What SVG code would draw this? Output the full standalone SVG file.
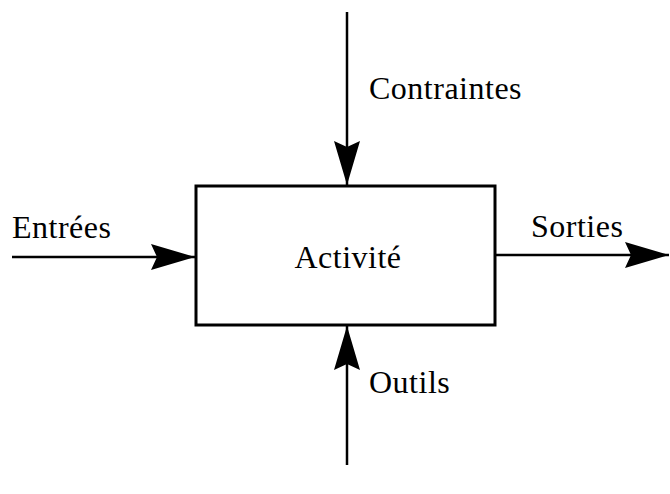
<svg xmlns="http://www.w3.org/2000/svg" width="670" height="494" viewBox="0 0 670 494">
  <style>
    .lbl { font-family: "Liberation Serif", "Times New Roman", serif; font-size: 32px; letter-spacing: 0.5px; fill: #000; }
    .ln { stroke: #000; stroke-width: 2.5; fill: none; }
    .box { stroke: #000; stroke-width: 3; fill: #fff; }
  </style>
  <defs>
    <marker id="head" viewBox="0 0 44 26" refX="44" refY="13" markerWidth="44" markerHeight="26" markerUnits="userSpaceOnUse" orient="auto">
      <path d="M0,0 L44,13 L0,26 L6,13 Z" fill="#000"/>
    </marker>
  </defs>
  <g id="connectors">
    <line class="ln" x1="347" y1="12" x2="347" y2="185" marker-end="url(#head)"/>
    <line class="ln" x1="12" y1="257" x2="195" y2="257" marker-end="url(#head)"/>
    <line class="ln" x1="496" y1="255" x2="669" y2="255" marker-end="url(#head)"/>
    <line class="ln" x1="347" y1="465" x2="347" y2="326" marker-end="url(#head)"/>
  </g>
  <g id="activite">
    <rect class="box" x="196" y="186" width="299" height="139"/>
    <text class="lbl" x="348" y="268" text-anchor="middle">Activité</text>
  </g>
  <g id="contraintes">
    <text class="lbl" x="369" y="99">Contraintes</text>
  </g>
  <g id="entrees">
    <text class="lbl" x="12" y="238">Entrées</text>
  </g>
  <g id="sorties">
    <text class="lbl" x="531" y="237">Sorties</text>
  </g>
  <g id="outils">
    <text class="lbl" x="369" y="393">Outils</text>
  </g>
</svg>
